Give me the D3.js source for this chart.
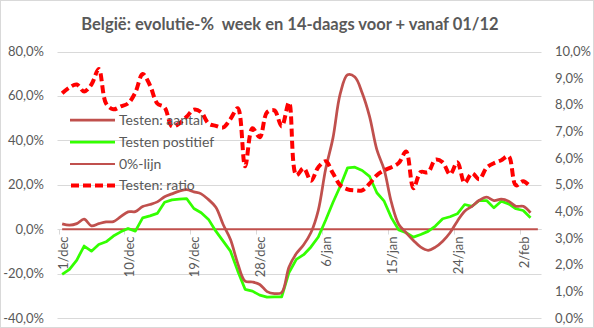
<!DOCTYPE html>
<html>
<head>
<meta charset="utf-8">
<script src="https://cdn.jsdelivr.net/npm/d3@7"></script>
<style>
  html, body { margin: 0; padding: 0; background: #fff; }
  svg { display: block; }
  text { font-family: Lato, "Open Sans", sans-serif; fill: #595959; }
</style>
</head>
<body>
<svg id="chart" width="594" height="328"></svg>
<script>
const title = "België: evolutie-%  week en 14-daags voor + vanaf 01/12";

const categories = [
  "1/dec","2/dec","3/dec","4/dec","5/dec","6/dec","7/dec","8/dec","9/dec","10/dec",
  "11/dec","12/dec","13/dec","14/dec","15/dec","16/dec","17/dec","18/dec","19/dec","20/dec",
  "21/dec","22/dec","23/dec","24/dec","25/dec","26/dec","27/dec","28/dec","29/dec","30/dec","31/dec",
  "1/jan","2/jan","3/jan","4/jan","5/jan","6/jan","7/jan","8/jan","9/jan","10/jan",
  "11/jan","12/jan","13/jan","14/jan","15/jan","16/jan","17/jan","18/jan","19/jan","20/jan",
  "21/jan","22/jan","23/jan","24/jan","25/jan","26/jan","27/jan","28/jan","29/jan","30/jan","31/jan",
  "1/feb","2/feb","3/feb","4/feb"
];

// Left axis (%)
const testenAantal = [
  2.4, 1.8, 2.5, 4.5, 1.5, 2.5, 3.3, 3.4, 5.6, 7.8,
  7.9, 10.2, 11.1, 12.3, 14.6, 15.9, 17.1, 17.8, 16.8, 15.9,
  13.3, 9.9, 2.1, -4.6, -15.5, -23.4, -23.8, -24.9, -28.1, -29.0, -28.5,
  -17.0, -11.0, -7.0, -1.5, 8.5, 27.0, 41.0, 61.0, 69.5, 68.5,
  61.3, 50.8, 35.8, 26.8, 11.9, 2.1, -1.6, -5.1, -8.1, -9.5,
  -8.1, -5.4, -1.6, 3.6, 8.1, 10.3, 13.0, 14.4, 12.9, 13.5, 12.6,
  10.3, 10.3, 7.4
];
const testenPositief = [
  -20.4, -18.1, -13.9, -7.6, -9.9, -6.9, -5.7, -3.1, -1.2, 0.3,
  -0.9, 5.1, 6.0, 7.1, 12.1, 13.2, 13.5, 13.8, 9.3, 7.4,
  4.4, -0.9, -5.4, -9.9, -18.9, -27.1, -27.9, -29.7, -30.6, -30.5, -30.5,
  -19.5, -13.6, -11.5, -8.0, -3.5, 4.0, 12.0, 19.3, 27.6, 27.9,
  26.4, 23.8, 16.4, 12.6, 5.1, -0.4, -1.6, -3.6, -2.4, -1.0,
  1.4, 4.7, 5.6, 6.9, 11.1, 10.3, 12.9, 12.9, 9.6, 12.6, 11.4,
  9.2, 8.4, 5.1
];
const nulLijn = [
  0,0,0,0,0,0,0,0,0,0, 0,0,0,0,0,0,0,0,0,0, 0,0,0,0,0,0,0,0,0,0,0,
  0,0,0,0,0,0,0,0,0,0, 0,0,0,0,0,0,0,0,0,0, 0,0,0,0,0,0,0,0,0,0,0,
  0,0,0,0
];
// Right axis (%)
const testenRatio = [
  8.43, 8.65, 8.76, 8.50, 8.76, 9.34, 8.05, 7.83, 7.94, 8.05,
  8.46, 9.16, 8.73, 8.05, 7.90, 7.19, 7.30, 7.55, 7.82, 7.72,
  7.30, 7.21, 7.15, 7.47, 7.87, 5.69, 7.12, 6.78, 7.72, 7.79, 7.19,
  8.09, 5.36, 5.62, 5.15, 5.66, 5.88, 5.43, 4.98, 4.83, 4.79,
  4.79, 5.04, 5.36, 5.54, 5.66, 5.82, 6.25, 4.87, 5.48, 5.47,
  5.94, 5.84, 5.39, 5.84, 5.07, 5.43, 5.21, 5.64, 5.81, 5.92, 6.07,
  4.98, 5.13, 4.92
];

const leftTicks = [80, 60, 40, 20, 0, -20, -40];
const rightTicks = [10, 9, 8, 7, 6, 5, 4, 3, 2, 1, 0];
const legendLabels = ["Testen: aantal", "Testen postitief", "0%-lijn", "Testen: ratio"];

const svg = d3.select("#chart");
const W = 594, H = 328;
const plot = { left: 58.5, right: 541.5, top: 51.5, bottom: 318 };

svg.append("rect").attr("x", 0.5).attr("y", 0.5).attr("width", W - 1).attr("height", H - 1)
  .attr("fill", "#fff").attr("stroke", "#d9d9d9");

const x = d3.scaleBand().domain(categories).range([plot.left, plot.right]).padding(0);
const cx = c => x(c) + x.bandwidth() / 2;
const yL = d3.scaleLinear().domain([-40, 80]).range([plot.bottom, plot.top]);
const yR = d3.scaleLinear().domain([0, 10]).range([plot.bottom, plot.top]);

// gridlines
svg.append("g").selectAll("line").data(leftTicks).join("line")
  .attr("x1", plot.left - 1).attr("x2", plot.right)
  .attr("y1", d => Math.round(yL(d)) + 0.5).attr("y2", d => Math.round(yL(d)) + 0.5)
  .attr("stroke", "#d9d9d9").attr("stroke-width", 1);

// left axis labels
const fmt1 = v => d3.format(".1f")(v).replace(".", ",").replace("−", "-") + "%";
svg.append("g").selectAll("text").data(leftTicks).join("text")
  .attr("x", 44).attr("y", d => yL(d)).attr("dy", "0.35em")
  .attr("text-anchor", "end").attr("font-size", 13).text(d => fmt1(d));
// right axis labels
svg.append("g").selectAll("text").data(rightTicks).join("text")
  .attr("x", 555).attr("y", d => yR(d)).attr("dy", "0.35em")
  .attr("text-anchor", "start").attr("font-size", 13).text(d => fmt1(d));

// category axis (crosses at 0)
const y0 = Math.round(yL(0)) + 0.5;
svg.append("line").attr("x1", plot.left).attr("x2", plot.right).attr("y1", y0).attr("y2", y0)
  .attr("stroke", "#d9d9d9");
const labelled = categories.filter((c, i) => i % 9 === 0);
svg.append("g").selectAll("line").data(labelled).join("line")
  .attr("x1", d => Math.round(x(d)) + 0.5).attr("x2", d => Math.round(x(d)) + 0.5)
  .attr("y1", y0).attr("y2", y0 + 5).attr("stroke", "#d9d9d9");
svg.append("g").selectAll("text").data(labelled).join("text")
  .attr("transform", d => `translate(${cx(d) + 1},${y0 + 7}) rotate(-90)`)
  .attr("dy", "0.35em").attr("text-anchor", "end").attr("font-size", 13).text(d => d);

// series
const lineL = (curve) => d3.line().x((d, i) => cx(categories[i])).y(d => yL(d)).curve(curve);
const lineR = d3.line().x((d, i) => cx(categories[i])).y(d => yR(d)).curve(d3.curveCatmullRom.alpha(0.5));

svg.append("path").datum(nulLijn).attr("d", lineL(d3.curveLinear))
  .attr("fill", "none").attr("stroke", "#c0504d").attr("stroke-width", 2);
svg.append("path").datum(testenPositief).attr("d", lineL(d3.curveLinear))
  .attr("fill", "none").attr("stroke", "#33ff00").attr("stroke-width", 2.75).attr("stroke-linejoin", "round");
svg.append("path").datum(testenAantal).attr("d", lineL(d3.curveCatmullRom.alpha(0.5)))
  .attr("fill", "none").attr("stroke", "#c0504d").attr("stroke-width", 2.75).attr("stroke-linejoin", "round");
svg.append("path").datum(testenRatio).attr("d", lineR)
  .attr("fill", "none").attr("stroke", "#ff0000").attr("stroke-width", 4)
  .attr("stroke-dasharray", "8,4");

// legend
const legendStyles = [
  { stroke: "#c0504d", w: 2.75, dash: null },
  { stroke: "#33ff00", w: 2.75, dash: null },
  { stroke: "#c0504d", w: 2, dash: null },
  { stroke: "#ff0000", w: 4, dash: "8,4" }
];
const legendY = [120, 142, 164, 185.5];
const lg = svg.append("g");
legendLabels.forEach((lab, i) => {
  const s = legendStyles[i];
  const ln = lg.append("line").attr("x1", 70).attr("x2", 115)
    .attr("y1", legendY[i]).attr("y2", legendY[i])
    .attr("stroke", s.stroke).attr("stroke-width", s.w);
  if (s.dash) ln.attr("stroke-dasharray", s.dash).attr("stroke-dashoffset", -1);
  lg.append("text").attr("x", 119).attr("y", legendY[i]).attr("dy", "0.35em")
    .attr("font-size", 14).text(lab);
});

// title
svg.append("text").attr("x", 290).attr("y", 30).attr("text-anchor", "middle")
  .attr("font-size", 16.5).attr("font-weight", "bold")
  .style("white-space", "pre").attr("xml:space", "preserve").text(title);
</script>
</body>
</html>
